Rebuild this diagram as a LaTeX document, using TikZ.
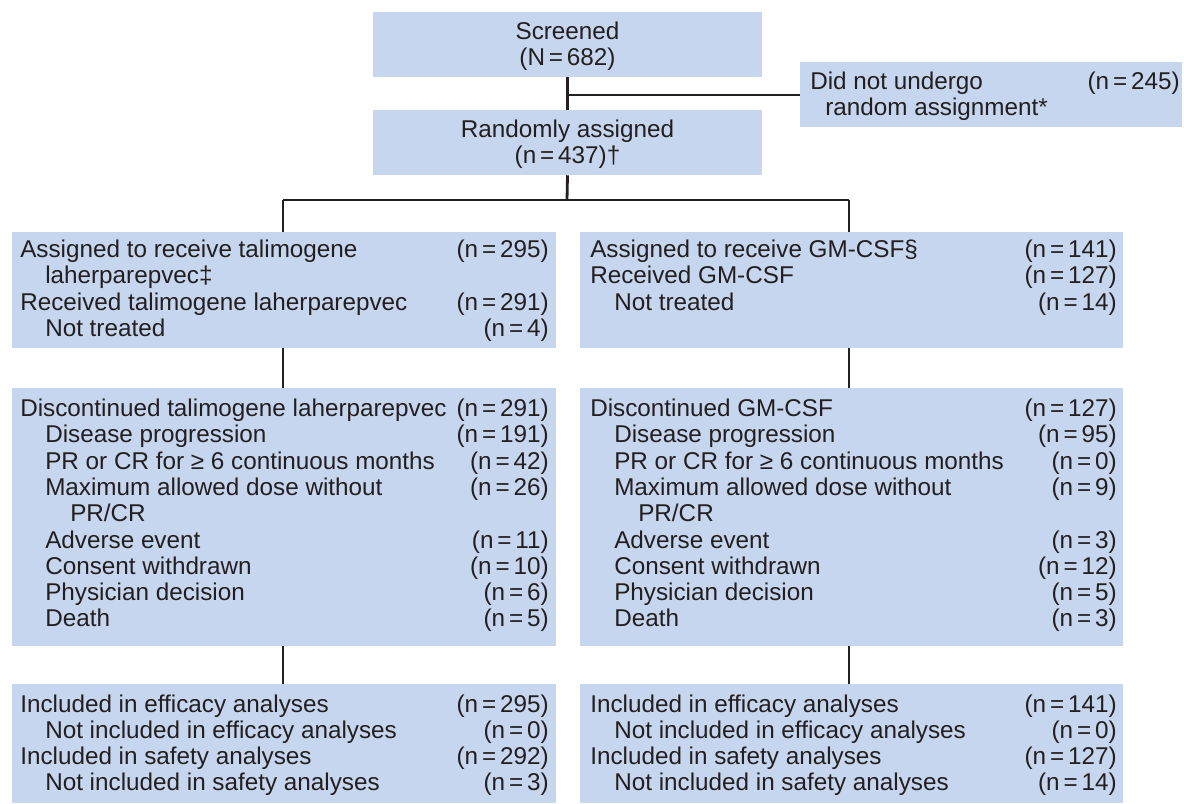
\documentclass[tikz,border=0pt]{standalone}
\usepackage{fontspec}
\setmainfont{Liberation Sans}
\usetikzlibrary{fit}
\definecolor{boxfill}{RGB}{198,214,238}
\definecolor{ink}{RGB}{35,31,32}
\tikzset{
  panel/.style={fill=boxfill, draw=none, inner sep=0pt},
  txt/.style={inner sep=0pt, text=ink, font=\fontsize{18.2}{20}\selectfont},
  lab/.style={txt, anchor=base west},
  num/.style={txt, anchor=base east},
  ctr/.style={txt, anchor=base},
  link/.style={draw=ink, line width=2.1pt}
}
% a line of text with its count set flush right
\newcommand\entry[6]{%
  \node[lab] (#1a) at (#2,#4) {#5};
  \node[num] (#1b) at (#3,#4) {#6};}
\newcommand\eqsp{\hspace{0.16em}=\hspace{0.16em}}
\newcommand\cnt[1]{(n\eqsp#1)}
\begin{document}
\begin{tikzpicture}[x=0.75pt,y=-0.75pt]
\useasboundingbox (0,0) rectangle (1184,803);

% boxes
\node[panel, fit={(373,12) (762,77)}]   (screen) {};
\node[panel, fit={(373,110) (762,175)}] (rand) {};
\node[panel, fit={(800,62) (1182,127)}] (excl) {};
\node[panel, fit={(12,232) (556,348)}]  (tl) {};
\node[panel, fit={(580,232) (1123,348)}] (tr) {};
\node[panel, fit={(12,388) (556,646)}]  (ml) {};
\node[panel, fit={(580,388) (1123,646)}] (mr) {};
\node[panel, fit={(12,684) (556,803)}]  (bl) {};
\node[panel, fit={(580,684) (1123,803)}] (br) {};

% connectors
\coordinate (split) at (567,200);
\coordinate (tee) at (567,95);
\coordinate (lcol) at (283,0);
\coordinate (rcol) at (849,0);
\draw[link] (screen.south) -- (rand.north);
\draw[link] (tee) -- (tee -| excl.west);
\draw[link] (rand.south) -- (split);
\draw[link] (split -| lcol) -- (split -| rcol);
\draw[link] (split -| lcol) -- (lcol |- tl.north);
\draw[link] (split -| rcol) -- (rcol |- tr.north);
\draw[link] (lcol |- tl.south) -- (lcol |- ml.north);
\draw[link] (rcol |- tr.south) -- (rcol |- mr.north);
\draw[link] (lcol |- ml.south) -- (lcol |- bl.north);
\draw[link] (rcol |- mr.south) -- (rcol |- br.north);

% top
\node[ctr] (s1) at (567.5,39) {Screened};
\node[ctr] (s2) at (567.5,65) {(N\eqsp682)};
\node[ctr] (r1) at (567.5,137) {Randomly assigned};
\node[ctr] (r2) at (567.5,163) {\cnt{437}†};
\entry{x1}{810}{1180}{89}{Did not undergo}{\cnt{245}}
\node[lab] (x2) at (825,115) {random assignment*};

% first row
\entry{a1}{20}{549}{257}{Assigned to receive talimogene}{\cnt{295}}
\node[lab] (a2) at (45,283) {laherparepvec‡};
\entry{a3}{20}{549}{310}{Received talimogene laherparepvec}{\cnt{291}}
\entry{a4}{45}{549}{336}{Not treated}{\cnt{4}}

\entry{b1}{590}{1117}{257}{Assigned to receive GM-CSF§}{\cnt{141}}
\entry{b2}{590}{1117}{283}{Received GM-CSF}{\cnt{127}}
\entry{b3}{614}{1117}{310}{Not treated}{\cnt{14}}

% second row
\entry{c1}{20}{549}{416}{Discontinued talimogene laherparepvec}{\cnt{291}}
\entry{c2}{45}{549}{442}{Disease progression}{\cnt{191}}
\entry{c3}{45}{549}{469}{PR or CR for ≥ 6 continuous months}{\cnt{42}}
\entry{c4}{45}{549}{495}{Maximum allowed dose without}{\cnt{26}}
\node[lab] (c5) at (70,521) {PR/CR};
\entry{c6}{45}{549}{548}{Adverse event}{\cnt{11}}
\entry{c7}{45}{549}{574}{Consent withdrawn}{\cnt{10}}
\entry{c8}{45}{549}{600}{Physician decision}{\cnt{6}}
\entry{c9}{45}{549}{626}{Death}{\cnt{5}}

\entry{d1}{590}{1117}{416}{Discontinued GM-CSF}{\cnt{127}}
\entry{d2}{614}{1117}{442}{Disease progression}{\cnt{95}}
\entry{d3}{614}{1117}{469}{PR or CR for ≥ 6 continuous months}{\cnt{0}}
\entry{d4}{614}{1117}{495}{Maximum allowed dose without}{\cnt{9}}
\node[lab] (d5) at (638,521) {PR/CR};
\entry{d6}{614}{1117}{548}{Adverse event}{\cnt{3}}
\entry{d7}{614}{1117}{574}{Consent withdrawn}{\cnt{12}}
\entry{d8}{614}{1117}{600}{Physician decision}{\cnt{5}}
\entry{d9}{614}{1117}{626}{Death}{\cnt{3}}

% third row
\entry{e1}{20}{549}{712}{Included in efficacy analyses}{\cnt{295}}
\entry{e2}{45}{549}{738}{Not included in efficacy analyses}{\cnt{0}}
\entry{e3}{20}{549}{764}{Included in safety analyses}{\cnt{292}}
\entry{e4}{45}{549}{790}{Not included in safety analyses}{\cnt{3}}

\entry{f1}{590}{1117}{712}{Included in efficacy analyses}{\cnt{141}}
\entry{f2}{614}{1117}{738}{Not included in efficacy analyses}{\cnt{0}}
\entry{f3}{590}{1117}{764}{Included in safety analyses}{\cnt{127}}
\entry{f4}{614}{1117}{790}{Not included in safety analyses}{\cnt{14}}
\end{tikzpicture}
\end{document}
